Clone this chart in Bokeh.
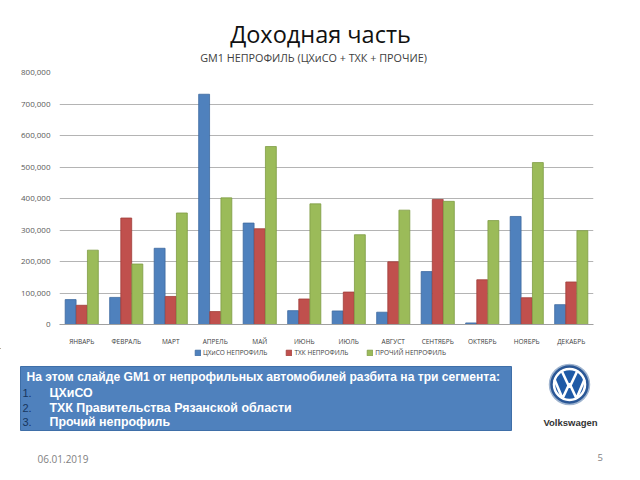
from bokeh.plotting import figure
from bokeh.models import (FactorRange, Range1d, FixedTicker, NumeralTickFormatter,
                          Legend, LegendItem, ColumnDataSource)
from bokeh.transform import dodge
from bokeh.embed import file_html
from bokeh.resources import INLINE
from bokeh.core.properties import value

# ---------------- data ----------------
months = ["ЯНВАРЬ", "ФЕВРАЛЬ", "МАРТ", "АПРЕЛЬ", "МАЙ", "ИЮНЬ", "ИЮЛЬ",
          "АВГУСТ", "СЕНТЯБРЬ", "ОКТЯБРЬ", "НОЯБРЬ", "ДЕКАБРЬ"]
tshiso = [79000, 86000, 242000, 731000, 322000, 44000, 43000, 39000, 168000, 5000, 343000, 63000]
thk = [61000, 338000, 89000, 41000, 304000, 81000, 103000, 199000, 397000, 142000, 85000, 135000]
prochiy = [236000, 192000, 354000, 402000, 565000, 383000, 285000, 363000, 391000, 330000, 514000, 298000]
series_names = ["ЦХиСО НЕПРОФИЛЬ", "ТХК НЕПРОФИЛЬ", "ПРОЧИЙ НЕПРОФИЛЬ"]
y_ticks = [0, 100000, 200000, 300000, 400000, 500000, 600000, 700000, 800000]

title_text = "Доходная часть"
subtitle_text = "GM1 НЕПРОФИЛЬ (ЦХиСО + ТХК + ПРОЧИЕ)"
note_header = "На этом слайде GM1 от непрофильных автомобилей разбита на три сегмента:"
note_numbers = ["1.", "2.", "3."]
note_items = ["ЦХиСО", "ТХК Правительства Рязанской области", "Прочий непрофиль"]
date_text = "06.01.2019"
page_number = "5"
brand = "Volkswagen"

colors = ["#4f81bd", "#c0504d", "#9bbb59"]
edges = ["#3d6aa0", "#a03d3a", "#7f9c45"]
FONT_NAME = "Open Sans"
FONT = value(FONT_NAME)
LIB = value("Liberation Sans")


def blank(y0, y1):
    # a decoration strip whose data coordinates equal page pixels
    f = figure(width=640, height=y1 - y0, x_range=Range1d(0, 640), y_range=Range1d(y1, y0),
               x_axis_location=None, y_axis_location=None, output_backend="svg",
               toolbar_location=None, min_border=0)
    f.grid.visible = False
    f.outline_line_color = None
    return f


# ---------------- top strip: titles ----------------
top = blank(0, 64)
top.text(x=[320], y=[33], text=[title_text], text_align="center", text_baseline="middle",
         text_font=FONT, text_font_size="23.5px", text_color="#111111")
top.text(x=[313], y=[57], text=[subtitle_text], text_align="center", text_baseline="middle",
         text_font=FONT, text_font_size="10.8px", text_color="#404040")

# ---------------- chart ----------------
src = ColumnDataSource(dict(month=months, a=tshiso, b=thk, c=prochiy))
p = figure(x_range=FactorRange(*months), y_range=Range1d(0, 800000),
           width=640, height=284,
           min_border_left=59, min_border_right=47, min_border_top=8, min_border_bottom=23,
           output_backend="svg", toolbar_location=None)

for col, off, fc, lc in zip(["a", "b", "c"], [-0.25, 0.0, 0.25], colors, edges):
    p.vbar(x=dodge("month", off, range=p.x_range), top=col, width=0.245, source=src,
           fill_color=fc, line_color=lc, line_width=0.8)

p.yaxis.ticker = FixedTicker(ticks=y_ticks)
p.yaxis.formatter = NumeralTickFormatter(format="0,0")
p.yaxis.axis_line_color = None
p.yaxis.major_tick_line_color = None
p.yaxis.minor_tick_line_color = None
p.yaxis.major_label_standoff = 3
p.yaxis.major_label_text_font = FONT_NAME
p.yaxis.major_label_text_font_size = "8px"
p.yaxis.major_label_text_color = "#595959"

p.xaxis.axis_line_color = "#a0a0a0"
p.xaxis.major_tick_line_color = None
p.xaxis.minor_tick_line_color = None
p.xaxis.major_label_standoff = 6
p.xaxis.major_label_text_font = FONT_NAME
p.xaxis.major_label_text_font_size = "6.5px"
p.xaxis.major_label_text_color = "#404040"

p.xgrid.grid_line_color = None
p.ygrid.grid_line_color = "#b4b4b4"
p.outline_line_color = None

# ---------------- bottom strip: legend, note box, logo, footer ----------------
bot = blank(348, 470)

# legend swatches: same styles as the chart's bars (their single point lies far off the strip)
swatches = []
for fc, lc in zip(colors, edges):
    swatches.append(bot.vbar(x=[-5000], top=[-5000], bottom=[-4990], width=1,
                             fill_color=fc, line_color=lc, line_width=0.8))
legend = Legend(items=[LegendItem(label=n, renderers=[r]) for n, r in zip(series_names, swatches)],
                orientation="horizontal", location=(194, 113),
                label_text_font=FONT_NAME, label_text_font_size="6.5px", label_text_color="#404040",
                glyph_width=7, glyph_height=7, label_height=8, label_standoff=2,
                spacing=18, padding=1, margin=0, border_line_color=None,
                background_fill_alpha=0)
bot.add_layout(legend)

bot.quad(left=[20], right=[511], top=[366], bottom=[430], fill_color="#4f81bd",
         line_color="#3f6fa8", line_width=1)
bot.text(x=[26], y=[376], text=[note_header], text_baseline="middle",
         text_font=LIB, text_font_style="bold", text_font_size="12.1px", text_color="#ffffff")
bot.text(x=[22, 22, 22], y=[392, 407, 421], text=note_numbers, text_baseline="middle",
         text_font=LIB, text_font_size="11px", text_color="#17365d")
bot.text(x=[49, 49, 49], y=[392, 407, 421], text=note_items, text_baseline="middle",
         text_font=LIB, text_font_style="bold", text_font_size="12.4px", text_color="#ffffff")

# Volkswagen logo
cx, cy = 569, 384
bot.circle(x=[cx], y=[cy], radius=20, fill_color="#2a5796", line_color="#9fb4cf", line_width=1.5)
bot.circle(x=[cx], y=[cy], radius=15.5, fill_color="#1f5aa6", line_color="#ffffff", line_width=2.5)
bot.line(x=[cx - 8, cx, cx + 8], y=[cy - 14, cy + 3, cy - 14], line_color="#ffffff", line_width=2.6)
bot.line(x=[cx - 15, cx - 7, cx, cx + 7, cx + 15], y=[cy - 5, cy + 14, cy - 1, cy + 14, cy - 5],
         line_color="#ffffff", line_width=2.6)
bot.text(x=[cx + 1], y=[422], text=[brand], text_align="center", text_baseline="middle",
         text_font=LIB, text_font_style="bold", text_font_size="9.5px", text_color="#333333")

bot.text(x=[37], y=[458], text=[date_text], text_baseline="middle",
         text_font=FONT, text_font_size="10px", text_color="#7f7f7f")
bot.text(x=[597], y=[457], text=[page_number], text_baseline="middle",
         text_font=FONT, text_font_size="9.5px", text_color="#7f7f7f")

open("out.html", "w").write(file_html([top, p, bot], INLINE))
